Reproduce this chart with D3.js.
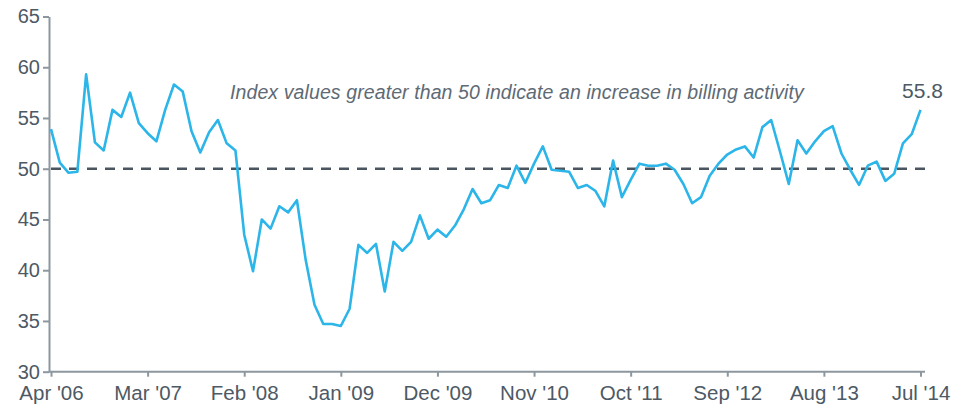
<!DOCTYPE html>
<html>
<head>
<meta charset="utf-8">
<script src="https://cdn.jsdelivr.net/npm/d3@7"></script>
<style>
  body { margin: 0; background: #fff; }
  svg { display: block; font-family: "Liberation Sans", Arial, sans-serif; }
</style>
</head>
<body>
<svg></svg>
<script>
const size = {w: 964, h: 409};
const svg = d3.select('svg')
    .attr('width', size.w)
    .attr('height', size.h);

// monthly index values, Apr 2006 .. Jul 2014
const values = [
  53.9, 50.6, 49.6, 49.7, 59.3, 52.6, 51.8, 55.8, 55.1, 57.5,
  54.5, 53.5, 52.7, 55.8, 58.3, 57.6, 53.7, 51.6, 53.6, 54.8,
  52.5, 51.8, 43.5, 39.9, 45.0, 44.1, 46.3, 45.7, 46.9, 41.0,
  36.6, 34.7, 34.7, 34.5, 36.2, 42.5, 41.7, 42.6, 37.9, 42.8,
  41.9, 42.8, 45.4, 43.1, 44.0, 43.3, 44.4, 46.0, 48.0, 46.6,
  46.9, 48.4, 48.1, 50.3, 48.6, 50.5, 52.2, 49.9, 49.8, 49.7,
  48.1, 48.4, 47.8, 46.3, 50.8, 47.2, 48.9, 50.5, 50.3, 50.3,
  50.5, 49.9, 48.5, 46.6, 47.2, 49.3, 50.5, 51.4, 51.9, 52.2,
  51.1, 54.1, 54.8, 51.7, 48.5, 52.8, 51.5, 52.7, 53.7, 54.2,
  51.5, 49.9, 48.4, 50.3, 50.7, 48.8, 49.5, 52.5, 53.4, 55.8
];
const tickLabels = ["Apr '06", "Mar '07", "Feb '08", "Jan '09", "Dec '09",
                    "Nov '10", "Oct '11", "Sep '12", "Aug '13", "Jul '14"];
const tickIndex = [0, 11, 22, 33, 44, 55, 66, 77, 88, 99];
const yTicks = [30, 35, 40, 45, 50, 55, 60, 65];
const threshold = 50;
const note = "Index values greater than 50 indicate an increase in billing activity";

const textColor = '#4d5964';
const axisColor = '#8d979f';

let x = d3.scaleLinear().domain([0, 99]).range([51, 920.5]);
let y = d3.scaleLinear().domain([30, 65]).range([371.7, 16.5]);

// y axis
let yAxisG = svg.append('g')
    .attr('transform', 'translate(49,0)')
    .call(d3.axisLeft(y).tickValues(yTicks).tickSize(6).tickPadding(3).tickSizeOuter(0));

// x axis
let xAxisG = svg.append('g')
    .attr('transform', `translate(0,${y(30)})`)
    .call(d3.axisBottom(x).tickValues(tickIndex)
        .tickFormat((d, i) => tickLabels[i])
        .tickSize(5).tickPadding(9).tickSizeOuter(0));

// stretch domain line from y axis to the right end
xAxisG.select('.domain').attr('d', `M49,0H925`);

[yAxisG, xAxisG].forEach(g => {
    g.select('.domain').attr('stroke', axisColor).attr('stroke-width', 2);
    g.selectAll('.tick line').attr('stroke', axisColor).attr('stroke-width', 2);
    g.selectAll('.tick text')
        .attr('fill', textColor)
        .style('font-size', '20.5px');
});
yAxisG.selectAll('.tick text').style('font-size', '20px');

// dashed 50 line
svg.append('line')
    .attr('x1', x(0)).attr('x2', 925)
    .attr('y1', y(threshold)).attr('y2', y(threshold))
    .attr('stroke', '#4a5560')
    .attr('stroke-width', 2.5)
    .attr('stroke-dasharray', '10,8');

// index line
let line = d3.line()
    .x((d, i) => x(i))
    .y(d => y(d));

svg.append('path')
    .datum(values)
    .attr('d', line)
    .attr('fill', 'none')
    .attr('stroke', '#2bb5e8')
    .attr('stroke-width', 2.6)
    .attr('stroke-linejoin', 'round');

// annotation
svg.append('text')
    .attr('x', 230).attr('y', 99)
    .attr('fill', '#5e6a74')
    .style('font-style', 'italic')
    .style('font-size', '19.5px')
    .style('letter-spacing', '0.1px')
    .text(note);

// last value label
svg.append('text')
    .attr('x', x(99) + 2).attr('y', 97.5)
    .attr('text-anchor', 'middle')
    .attr('fill', textColor)
    .style('font-size', '21px')
    .text(values[values.length - 1].toFixed(1));
</script>
</body>
</html>
